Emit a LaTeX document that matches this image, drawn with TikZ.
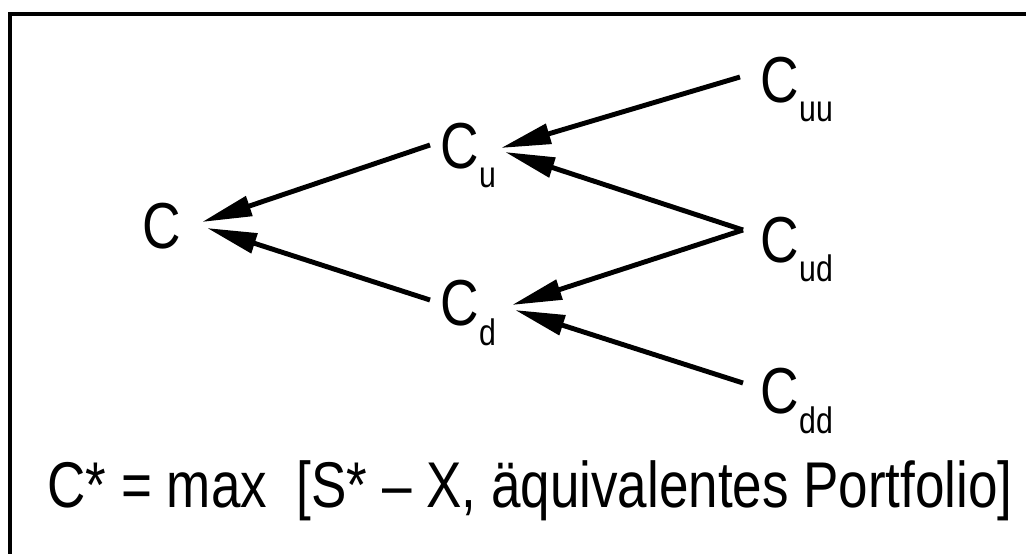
\documentclass[tikz,border=0pt]{standalone}
\usepackage{fontspec}
\setmainfont[FakeStretch=0.82]{Liberation Sans}
\usetikzlibrary{arrows.meta,positioning}
\newcommand{\lowsub}[1]{\raisebox{-0.4cm}{\fontsize{21}{22}\selectfont #1}}

\begin{document}
\begin{tikzpicture}[x=0.02cm, y=-0.02cm, thick]
    % Styles
    \tikzstyle{val} = [inner sep=0pt, anchor=base west, font=\fontsize{37}{40}\selectfont]
    \tikzstyle{link} = [draw, line width=2.8pt, -{Triangle[length=1cm,width=0.4cm]}]
    \tikzstyle{frame} = [draw, line width=1.8pt]

    \useasboundingbox (0,0) rectangle (1026,554);

    % Frame (only top and left edge)
    \draw [frame] (1026,14) -- (10,14) -- (10,554);

    % Nodes
    \node [val] (c) at (142,248) {C};
    \node [val] (cu) at (440,168) {C\lowsub{u}};
    \node [val] (cd) at (440,325) {C\lowsub{d}};
    \node [val] (cuu) at (760,102) {C\lowsub{uu}};
    \node [val] (cud) at (760,262) {C\lowsub{ud}};
    \node [val] (cdd) at (760,413) {C\lowsub{dd}};
    \node [val, font=\fontsize{36.8}{40}\selectfont] (rule) at (47,507) {C* = max~~[S* – X, äquivalentes Portfolio]};

    % Edges
    \path [link] ([shift={(-20,-25)}]cuu.base west) -- ([shift={(61,-20)}]cu.base west);
    \path [link] ([shift={(-17,-32)}]cud.base west) -- ([shift={(65,-16)}]cu.base west);
    \path [link] ([shift={(-17,-32)}]cud.base west) -- ([shift={(72,-20)}]cd.base west);
    \path [link] ([shift={(-17,-30)}]cdd.base west) -- ([shift={(75,-15)}]cd.base west);
    \path [link] ([shift={(-10,-23)}]cu.base west) -- ([shift={(60,-26)}]c.base west);
    \path [link] ([shift={(-10,-25)}]cd.base west) -- ([shift={(65,-20)}]c.base west);

\end{tikzpicture}
\end{document}
